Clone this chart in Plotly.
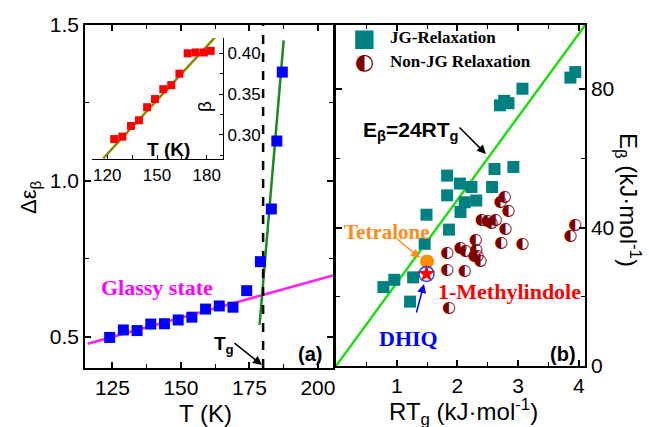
import plotly.graph_objects as go

W, H = 649, 427

# ---------------- Panel (a) data ----------------
T_a = [124, 129, 134, 139, 144, 149, 154, 159, 164, 169, 174, 179, 183, 185, 187]
deps = [0.498, 0.522, 0.52, 0.541, 0.542, 0.554, 0.563, 0.589, 0.599, 0.595,
        0.648, 0.741, 0.91, 1.128, 1.349]
glassy_T = [116, 205.5]
glassy_y = [0.478, 0.697]
liquid_T = [178.7, 187.5]
liquid_y = [0.538, 1.451]
Tg = 180

# inset
T_in = [124.2, 129.1, 134.3, 139.1, 144, 148.8, 153.8, 158.6, 163.5, 168.5, 173.3, 178.2, 182.4]
beta = [0.295, 0.298, 0.311, 0.318, 0.334, 0.344, 0.356, 0.361, 0.375, 0.400, 0.401, 0.401, 0.403]
fit_T = [117.6, 185]
fit_b = [0.2715, 0.4195]

# ---------------- Panel (b) data ----------------
jg_RT = [3.94, 3.86, 3.07, 2.84, 2.70, 2.77, 2.61, 2.92, 1.83, 2.04, 2.23, 2.57,
         1.83, 2.12, 2.31, 2.05, 1.49, 1.86, 1.46, 1.27, 0.96, 0.78, 1.22]
jg_E = [84.9, 83.3, 80.1, 75.9, 75.3, 76.6, 56.9, 57.5, 55.0, 52.7, 51.7, 51.7,
        49.3, 47.3, 47.8, 44.5, 43.7, 39.4, 35.3, 25.6, 24.9, 22.8, 18.6]
njg_RT = [3.94, 3.86, 3.07, 2.72, 2.79, 2.84, 2.71, 2.78, 2.40, 2.50, 2.56, 2.63,
          2.30, 2.05, 2.13, 2.31, 2.33, 2.28, 2.38, 1.83, 1.83, 2.12, 1.86]
njg_E = [40.8, 37.6, 35.2, 35.5, 39.6, 44.7, 47.3, 48.7, 42.3, 41.8, 41.3, 42.2,
         36.5, 34.2, 33.1, 33.4, 31.8, 31.7, 30.2, 32.5, 27.6, 27.4, 16.7]
tetralone = (1.50, 30.2)
dhiq = (1.49, 26.6)
rule_RT = [0, 4.1]
rule_factor = 24

def px(x):
    return x / W

def py(y):
    return 1 - y / H

fig = go.Figure()

# panel a
fig.add_trace(go.Scatter(x=glassy_T, y=glassy_y, mode="lines",
                         line=dict(color="#ff22ee", width=2.5), xaxis="x", yaxis="y"))
fig.add_trace(go.Scatter(x=liquid_T, y=liquid_y, mode="lines",
                         line=dict(color="#1a8a1a", width=2.5), xaxis="x", yaxis="y"))
fig.add_trace(go.Scatter(x=[Tg, Tg], y=[0.4, 1.5], mode="lines",
                         line=dict(color="black", width=2.5, dash="dash"), xaxis="x", yaxis="y"))
fig.add_trace(go.Scatter(x=T_a, y=deps, mode="markers",
                         marker=dict(symbol="square", size=11, color="#0000ff"),
                         xaxis="x", yaxis="y"))
# inset
fig.add_trace(go.Scatter(x=fit_T, y=fit_b, mode="lines",
                         line=dict(color="#8a8a00", width=2.5), xaxis="x3", yaxis="y3"))
fig.add_trace(go.Scatter(x=T_in, y=beta, mode="markers",
                         marker=dict(symbol="square", size=8, color="#ff0000"),
                         xaxis="x3", yaxis="y3"))

# panel b
fig.add_trace(go.Scatter(x=rule_RT, y=[rule_factor * v for v in rule_RT], mode="lines",
                         line=dict(color="#22dd11", width=2.5), xaxis="x2", yaxis="y2"))
fig.add_trace(go.Scatter(x=jg_RT, y=jg_E, mode="markers",
                         marker=dict(symbol="square", size=12, color="#008080"),
                         xaxis="x2", yaxis="y2"))
fig.add_trace(go.Scatter(x=njg_RT, y=njg_E, mode="text", text=["\u25d0"] * len(njg_RT),
                         textposition="middle center",
                         textfont=dict(family="DejaVu Sans", size=16, color="#7f0000"),
                         xaxis="x2", yaxis="y2"))
fig.add_trace(go.Scatter(x=[tetralone[0]], y=[tetralone[1]], mode="markers",
                         marker=dict(symbol="circle", size=14, color="#ff8c00"),
                         xaxis="x2", yaxis="y2"))
fig.add_trace(go.Scatter(x=[dhiq[0]], y=[dhiq[1]], mode="markers",
                         marker=dict(symbol="circle-open", size=15, color="#2244ff",
                                     line=dict(width=1.5)),
                         xaxis="x2", yaxis="y2"))
fig.add_trace(go.Scatter(x=[dhiq[0]], y=[dhiq[1]], mode="markers",
                         marker=dict(symbol="star", size=13, color="#ff0000"),
                         xaxis="x2", yaxis="y2"))

tickfont = dict(family="Liberation Sans, Arial", size=21, color="black")
axcommon = dict(showline=True, linecolor="black", linewidth=1.5, mirror="allticks",
                ticks="inside", ticklen=6, tickwidth=1.5, tickcolor="black",
                showgrid=False, zeroline=False, tickfont=tickfont, automargin=False)
insetfont = dict(family="Liberation Sans, Arial", size=17, color="black")

fig.update_layout(
    width=W, height=H, margin=dict(l=0, r=0, t=0, b=0, pad=0, autoexpand=False),
    paper_bgcolor="white", plot_bgcolor="rgba(0,0,0,0)", showlegend=False,
    xaxis=dict(domain=[px(85), px(333)], range=[115, 205.5], anchor="y",
               tickvals=[125, 150, 175, 200],
               minor=dict(tickvals=[137.5, 162.5, 187.5], ticks="inside", ticklen=4,
                          tickcolor="black", tickwidth=1.2),
               **axcommon),
    yaxis=dict(domain=[py(368), py(25)], range=[0.4, 1.5], anchor="x",
               tickvals=[0.5, 1.0, 1.5], ticktext=["0.5", "1.0", "1.5"],
               minor=dict(tickvals=[0.75, 1.25], ticks="inside", ticklen=4,
                          tickcolor="black", tickwidth=1.2),
               **axcommon),
    xaxis2=dict(domain=[px(336), px(585)], range=[0, 4.1], anchor="y2",
                tickvals=[1, 2, 3, 4],
                minor=dict(tickvals=[0, 0.5, 1.5, 2.5, 3.5], ticks="inside", ticklen=4,
                           tickcolor="black", tickwidth=1.2),
                **axcommon),
    yaxis2=dict(domain=[py(366), py(25)], range=[0, 98.5], anchor="x2", side="right",
                tickvals=[0, 40, 80],
                minor=dict(tickvals=[20, 60], ticks="inside", ticklen=4,
                           tickcolor="black", tickwidth=1.2),
                **axcommon),
    xaxis3=dict(domain=[px(92), px(223)], range=[110.8, 189.8], anchor="y3",
                showline=True, linecolor="black", linewidth=1.2, mirror=False,
                ticks="inside", ticklen=4, tickcolor="black", tickwidth=1.2,
                tickvals=[120, 150, 180],
                minor=dict(tickvals=[135, 165], ticks="inside", ticklen=4,
                           tickcolor="black", tickwidth=1.2),
                showgrid=False, zeroline=False, automargin=False, tickfont=insetfont),
    yaxis3=dict(domain=[py(159), py(38)], range=[0.2706, 0.4187], anchor="x3",
                side="right",
                showline=True, linecolor="black", linewidth=1.2, mirror=False,
                ticks="inside", ticklen=4, tickcolor="black", tickwidth=1.2,
                tickvals=[0.30, 0.35, 0.40], ticktext=["0.30", "0.35", "0.40"],
                minor=dict(tickvals=[0.275, 0.325, 0.375], ticks="inside", ticklen=3,
                           tickcolor="black", tickwidth=1.2),
                showgrid=False, zeroline=False, automargin=False, tickfont=insetfont),
)

sans = "Liberation Sans, Arial"
serif = "Liberation Serif, Times New Roman"

def ann(text, x, y, size, color="black", family=sans, angle=0, xanchor="center", yanchor="middle"):
    fig.add_annotation(text=text, x=px(x), y=py(y), xref="paper", yref="paper",
                       showarrow=False, textangle=angle, xanchor=xanchor, yanchor=yanchor,
                       font=dict(family=family, size=size, color=color))

def arrow(x0, y0, x1, y1, color="black", width=1.5):
    fig.add_annotation(text="", x=px(x1), y=py(y1), xref="paper", yref="paper",
                       ax=x0 - x1, ay=y0 - y1, axref="pixel", ayref="pixel",
                       showarrow=True, arrowhead=2, arrowsize=1.2, arrowwidth=width,
                       arrowcolor=color)

# axis titles
ann("\u0394\u03b5<sub>\u03b2</sub>", 30, 197, 22, angle=-90)
ann("T (K)", 206, 413, 24)
ann("RT<sub>g</sub> (kJ\u00b7mol<sup>-1</sup>)", 464, 412, 24)
ann("E<sub>\u03b2</sub> (kJ\u00b7mol<sup>-1</sup>)", 628, 200, 24, angle=90)

# inset titles
ann("<b>T (K)</b>", 168, 150, 19)
ann("\u03b2", 204, 107, 19, angle=-90)

# panel a labels
ann("<b>Glassy state</b>", 157, 287, 22, color="#ff00ff", family=serif)
ann("<b>T<sub>g</sub></b>", 212, 345, 19, xanchor="left")
arrow(233, 342, 262, 365)
ann("<b>(a)</b>", 310, 354, 20)

# panel b labels
ann("<b>JG-Relaxation</b>", 388, 38, 17, family=serif, xanchor="left")
ann("<b>Non-JG Relaxation</b>", 388, 62, 17, family=serif, xanchor="left")
ann("\u25a0", 364, 38, 24, color="#008080", family="DejaVu Sans")
ann("\u25d0", 364, 62, 22, color="#7f0000", family="DejaVu Sans")
ann("<b>E<sub>\u03b2</sub>=24RT<sub>g</sub></b>", 361, 131, 21, xanchor="left")
arrow(458, 126, 486, 154)
ann("<b>Tetralone</b>", 387, 232, 21, color="#ff8c1a", family=serif)
arrow(396, 238, 420, 258, color="#ff8c1a")
ann("<b>1-Methylindole</b>", 510, 291, 22, color="#ff0000", family=serif)
ann("<b>DHIQ</b>", 409, 338, 22, color="#0000ff", family=serif)
arrow(416, 314, 424, 284, color="#0000ff")
ann("<b>(b)</b>", 563, 354, 20)

fig.write_html("out.html")
